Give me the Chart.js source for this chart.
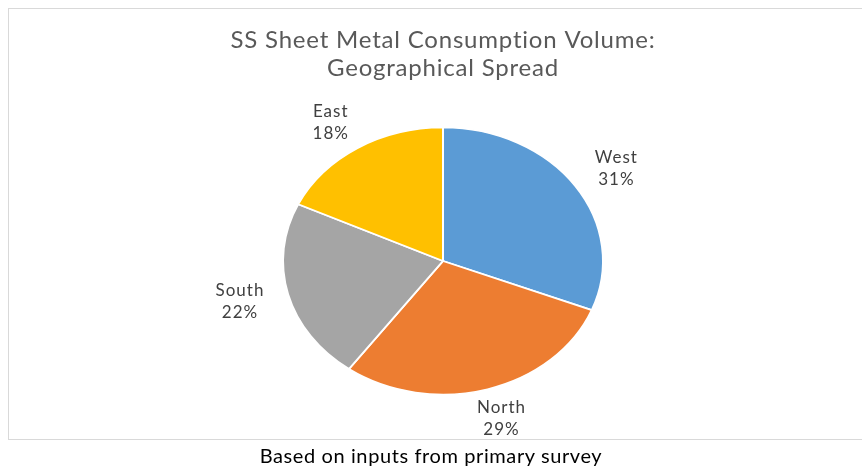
<!DOCTYPE html>
<html>
<head>
<meta charset="utf-8">
<script src="https://cdn.jsdelivr.net/npm/chart.js@4"></script>
<style>
  html, body { margin: 0; padding: 0; background: #fff; }
  #wrap { position: relative; width: 862px; height: 469px; overflow: hidden; }
  #box { position: absolute; left: 8px; top: 8px; width: 870px; height: 432px; border: 1px solid #d9d9d9; box-sizing: border-box; }
  canvas { position: absolute; left: 0; top: 0; }
  #note { position: absolute; left: 0; width: 862px; top: 443px; text-align: center; font-family: Lato, sans-serif; font-size: 20px; letter-spacing: 0.6px; color: #000; }
</style>
</head>
<body>
<div id="wrap">
  <div id="box"></div>
  <canvas id="pie" width="862" height="469"></canvas>
  <div id="note">Based on inputs from primary survey</div>
</div>
<script>
const regions = ['West', 'North', 'South', 'East'];
const shares = [31, 29, 22, 18];
const colors = ['#5B9BD5', '#ED7D31', '#A5A5A5', '#FFC000'];
const titleLines = ['SS Sheet Metal Consumption Volume:', 'Geographical Spread'];

// pie is drawn as an ellipse: squash vertically around the centre
const squash = 133.5 / 160;

const ellipse = {
  id: 'ellipse',
  beforeDatasetsDraw(chart) {
    const arc = chart.getDatasetMeta(0).data[0];
    const c = chart.ctx;
    c.save();
    c.translate(arc.x, arc.y);
    c.scale(1, squash);
    c.translate(-arc.x, -arc.y);
  },
  afterDatasetsDraw(chart) {
    chart.ctx.restore();
  }
};

const texts = {
  id: 'texts',
  afterDraw(chart) {
    const c = chart.ctx;
    c.save();
    c.textAlign = 'center';
    c.textBaseline = 'middle';
    c.fillStyle = '#595959';
    c.font = '24px Lato, sans-serif';
    c.letterSpacing = '0.8px';
    c.fillText(titleLines[0], 443, 40);
    c.fillText(titleLines[1], 443, 68);

    c.fillStyle = '#404040';
    c.font = '17px Lato, sans-serif';
    c.letterSpacing = '1px';
    chart.getDatasetMeta(0).data.forEach((arc, i) => {
      const mid = (arc.startAngle + arc.endAngle) / 2;
      const x = arc.x + Math.cos(mid) * arc.outerRadius * 1.31;
      const y = arc.y + Math.sin(mid) * arc.outerRadius * squash * 1.23;
      c.fillText(regions[i], x, y - 11);
      c.fillText(shares[i] + '%', x, y + 11);
    });
    c.restore();
  }
};

new Chart(document.getElementById('pie'), {
  type: 'pie',
  data: {
    labels: regions,
    datasets: [{
      data: shares,
      backgroundColor: colors,
      borderColor: '#ffffff',
      borderWidth: 2
    }]
  },
  options: {
    responsive: false,
    animation: false,
    layout: { padding: { top: 100, bottom: 47, left: 100, right: 76 } },
    plugins: {
      legend: { display: false },
      tooltip: { enabled: false }
    }
  },
  plugins: [ellipse, texts]
});
</script>
</body>
</html>
